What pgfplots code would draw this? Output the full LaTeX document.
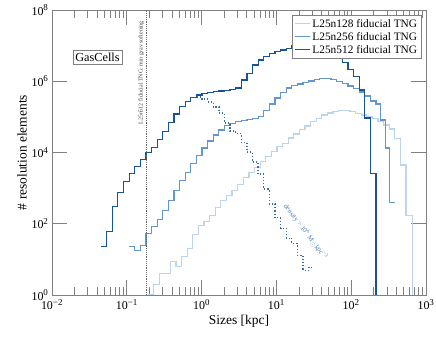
\documentclass[border=0pt]{standalone}
\usepackage{fontspec}
\setmainfont{Liberation Serif}
\usepackage{pgfplots}
\pgfplotsset{compat=1.18}
\definecolor{c128}{RGB}{188,212,236}
\definecolor{c256}{RGB}{100,150,202}
\definecolor{c512}{RGB}{22,84,148}
\definecolor{axgray}{RGB}{128,128,128}
\newcommand{\pw}[1]{10\textsuperscript{\fontsize{9}{10}\selectfont #1}}

\begin{document}
\begin{tikzpicture}
\begin{axis}[
  scale only axis, width=374bp, height=285bp,
  xmode=log, ymode=log,
  xmin=1e-2, xmax=1e3, ymin=1, ymax=1e8,
  xtick={1e-2,1e-1,1,10,100,1000},
  xticklabels={\pw{−2},\pw{−1},\pw{0},\pw{1},\pw{2},\pw{3}},
  ytick={1,1e2,1e4,1e6,1e8},
  yticklabels={\pw{0},\pw{2},\pw{4},\pw{6},\pw{8}},
  yminorticks=false,
  major tick length=15bp, minor tick length=8bp,
  axis line style={axgray},
  every tick/.style={axgray, line width=0.6pt},
  tick label style={font=\fontsize{12}{14}\selectfont},
  xticklabel style={yshift=-1bp},
  label style={font=\fontsize{13.5}{15}\selectfont},
  xlabel={Sizes [kpc]}, ylabel={\# resolution elements},
  xlabel style={yshift=2bp},
  ylabel style={yshift=-2bp},
  legend style={at={(rel axis cs:0.987,0.982)}, anchor=north east,
    draw=axgray, fill=white, font=\fontsize{11.4}{13}\selectfont,
    inner sep=1.8bp, row sep=-0.5bp},
  legend cell align=left,
  legend image code/.code={\draw[#1] (0cm,0cm) -- (0.53cm,0cm);},
  every axis plot/.append style={line width=1.2bp},
  const plot,
]
% L25n128
\addplot[c128] coordinates {
(0.1917,1.0) (0.2279,2.01) (0.2708,4.02) (0.3219,4.02) (0.3825,8.9)
(0.4547,6.16) (0.5404,12.3) (0.6422,20.2) (0.7633,50.0) (0.9072,91.4)
(1.0782,113) (1.2814,174.6) (1.5228,286) (1.810,460) (2.151,636)
(2.556,879) (3.039,1295) (3.611,2037) (4.292,2814) (5.101,3890)
(6.063,5480) (7.206,7570) (8.565,10460) (10.18,14460) (12.10,18360)
(14.38,25370) (17.09,32880) (20.31,43970) (24.14,55180) (28.69,72800)
(34.09,90800) (40.53,112500) (48.16,128000) (57.24,143600) (68.03,150300)
(80.85,147500) (96.09,139000) (114.2,125400) (135.7,112500) (161.3,98700)
(191.7,87900) (227.9,73800) (270.9,58880) (321.9,45400) (382.5,24900)
(454.7,4430) (540.4,166.7) (664,166.7) (664,0.1)
};
\addlegendentry{L25n128 fiducial TNG}
% L25n256
\addplot[c256] coordinates {
(0.1074,22.4) (0.1276,17.3) (0.1517,25.0) (0.1803,53.4) (0.2143,81.8)
(0.2547,134.6) (0.3027,241) (0.3597,446) (0.4276,879) (0.5082,1679)
(0.6039,2724) (0.7178,5036) (0.8531,8453) (1.0139,13300) (1.205,20900)
(1.432,30800) (1.702,42560) (2.023,57000) (2.404,65600) (2.858,73800)
(3.396,78700) (4.036,83950) (4.797,90800) (5.702,105000) (6.776,150000)
(8.054,229000) (9.572,337000) (11.38,482000) (13.52,644000) (16.07,757000)
(19.10,834000) (22.70,919000) (26.98,1010000) (32.06,1120000) (38.11,1210000)
(45.29,1210000) (53.83,1120000) (63.97,980000) (76.03,861000) (90.36,733000)
(107.4,624000) (127.6,497000) (151.7,384000) (180.3,278000) (214.3,229000)
(246.5,81300) (287.6,13300) (325.2,404) (385.2,404)
};
\addlegendentry{L25n256 fiducial TNG}
% L25n512
\addplot[c512] coordinates {
(0.04529,22.4) (0.05383,59.2) (0.06397,299) (0.07603,757) (0.09036,1574)
(0.1074,2588) (0.1276,4150) (0.1517,6397) (0.1803,10070) (0.2143,13900)
(0.2547,23770) (0.3027,38120) (0.3597,68240) (0.4276,120000) (0.5082,192000)
(0.6039,266000) (0.7178,348000) (0.8531,409000) (1.0139,457000) (1.205,482000)
(1.432,507000) (1.702,531000) (2.023,555000) (2.404,577000) (2.858,644000)
(3.396,1080000) (4.036,1670000) (4.797,2850000) (5.702,3940000) (6.776,4880000)
(8.054,6080000) (9.572,6740000) (11.38,7520000) (13.52,8390000) (16.07,9750000)
(19.10,11100000) (22.70,12600000) (26.98,13500000) (32.06,12600000) (38.11,10400000)
(45.29,7520000) (53.83,4600000) (63.97,4400000) (76.03,3400000) (90.36,2160000)
(107.4,1340000) (127.6,566000) (151.7,92500) (180.3,2636) (214.3,2636) (214.3,0.1)
};
\addlegendentry{L25n512 fiducial TNG}
% L25n512, dense gas only
\addplot[c512!85!white, dotted, line width=1.3bp, forget plot] coordinates {
(0.7178,348000) (0.8531,360000) (1.0139,316000) (1.205,261000) (1.432,188000)
(1.702,128000) (2.023,67000) (2.404,39900) (2.858,34000) (3.396,19000)
(4.036,10300) (4.797,5370) (5.702,2472) (6.776,938) (8.054,356)
(9.572,148) (11.38,75.2) (13.52,39.4) (16.07,28.5) (19.10,13.1)
(22.70,4.98) (26.98,6.04) (32.06,6.04)
};
% minimum gravitational softening
\addplot[black!60, densely dotted, line width=0.5pt, forget plot, sharp plot]
  coordinates {(0.1845,1) (0.1845,1e8)};
\node[rotate=90, anchor=south east, font=\fontsize{6}{7}\selectfont,
  text=black!75, inner sep=1bp] at ([xshift=-1.5bp,yshift=-10bp]axis cs:0.1845,1e8)
  {L25n512 fiducial TNG: min grav softening};
\node[draw=axgray, fill=white, font=\fontsize{12.3}{14}\selectfont, inner sep=2.5bp]
  at (rel axis cs:0.1217,0.834) {GasCells};
\node[rotate=-53, font=\fontsize{7}{8}\selectfont, text=c256!70!c512]
  at (axis cs:24.5,60) {density > 10\textsuperscript{6} M$_\odot$kpc\textsuperscript{−3}};
\end{axis}
\pgfresetboundingbox
\path[use as bounding box] ([xshift=-52bp,yshift=-42bp]current axis.south west)
  rectangle ([xshift=10bp,yshift=10bp]current axis.north east);
\end{tikzpicture}
\end{document}
